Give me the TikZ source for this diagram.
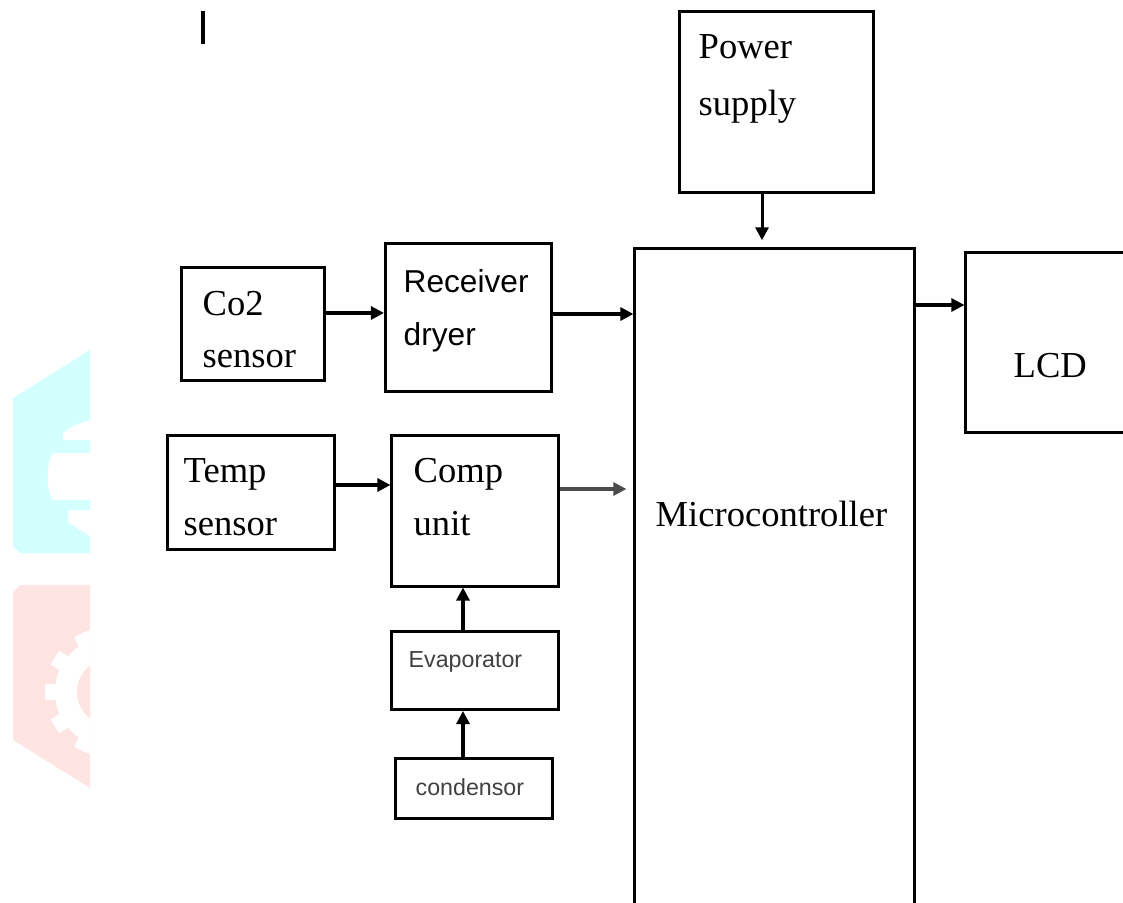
\documentclass[tikz,border=0pt]{standalone}
\usepackage{fontspec}
\setmainfont{Liberation Serif}
\newfontfamily\sansf{Liberation Sans}
\usetikzlibrary{arrows.meta}
\definecolor{wcyan}{HTML}{D4FFFF}
\definecolor{wpink}{HTML}{FFE4E4}
\begin{document}
\begin{tikzpicture}[x=0.01cm,y=-0.01cm,
  box/.style={draw, line width=0.03cm, inner sep=0pt},
  txt/.style={anchor=base west, inner sep=0pt, font=\fontsize{10.4}{12}\selectfont},
  stxt/.style={anchor=base west, inner sep=0pt, font=\sansf\fontsize{9}{11}\selectfont},
  tiny/.style={anchor=base west, inner sep=0pt, text=black!75, font=\sansf\fontsize{6.6}{8}\selectfont},
  arr/.style={draw, line width=0.03cm, -{Triangle[length=0.13cm,width=0.13cm]}}]
\useasboundingbox (0,0) rectangle (1123,903);
\clip (0,0) rectangle (1123,903);
% watermark (cyan)
\fill[wcyan] (90,350) -- (13,398) -- (13,546) -- (20,553) -- (90,553) -- cycle;
\fill[white] (63,440) -- (63,433) -- (75,425) -- (90,420) -- (90,440) -- cycle;
\fill[white] (90,453) -- (53,453) .. controls (46,462) and (46,491) .. (53,500) -- (90,500) -- cycle;
\fill[white] (68,510) -- (90,510) -- (90,536) -- (80,530) -- (68,522) -- cycle;
% watermark (pink)
\begin{scope}
  \clip (90,585) -- (20,585) -- (13,592) -- (13,740) -- (90,788) -- cycle;
  \fill[wpink] (0,580) rectangle (95,800);
  \fill[white] (110,692) circle [radius=0.55cm];
  \foreach \a in {84,116,148,180,212,244,276}
    \fill[white, rotate around={\a:(110,692)}] (155,684) rectangle (175,700);
  \fill[wpink] (110,692) circle [radius=0.33cm];
\end{scope}
% top-left bar
\draw[line width=0.04cm] (203,11) -- (203,44);
% boxes
\node[box, minimum width=1.93cm, minimum height=1.80cm] (ps) at (776.5,102) {};
\node[box, minimum width=2.79cm, minimum height=7.51cm] (mc) at (774.5,624.5) {};
\node[box, minimum width=2.34cm, minimum height=1.79cm] (lcd) at (1083,342.5) {};
\node[box, minimum width=1.42cm, minimum height=1.12cm] (co2) at (253,324) {};
\node[box, minimum width=1.66cm, minimum height=1.47cm] (rd) at (468.5,317.5) {};
\node[box, minimum width=1.66cm, minimum height=1.13cm] (ts) at (251,492.5) {};
\node[box, minimum width=1.66cm, minimum height=1.50cm] (cu) at (475,511) {};
\node[box, minimum width=1.66cm, minimum height=0.78cm] (ev) at (475,670.5) {};
\node[box, minimum width=1.56cm, minimum height=0.60cm] (cd) at (474,788.5) {};
% texts
\node[txt] (pst1) at (698,58) {Power};
\node[txt] (pst2) at (698,115) {supply};
\node[txt] (mct) at (655,527) {Microcontroller};
\node[txt] (lcdt) at (1013,377) {LCD};
\node[txt] (co2t1) at (202,315) {Co2};
\node[txt] (co2t2) at (202,367) {sensor};
\node[stxt] (rdt1) at (403,292) {Receiver};
\node[stxt] (rdt2) at (403,345) {dryer};
\node[txt] (tst1) at (183,482) {Temp};
\node[txt] (tst2) at (183,535) {sensor};
\node[txt] (cut1) at (413,482) {Comp};
\node[txt] (cut2) at (413,535) {unit};
\node[tiny] (evt) at (408,667) {Evaporator};
\node[tiny] (cdt) at (415,795) {condensor};
% connectors
\draw[arr] (co2.east |- 0,313) -- (rd.west |- 0,313);
\draw[arr] (rd.east |- 0,314) -- (mc.west |- 0,314);
\draw[arr] (ts.east |- 0,485) -- (cu.west |- 0,485);
\draw[arr, draw=black!70, shorten >=0.07cm] (cu.east |- 0,489) -- (mc.west |- 0,489);
\draw[arr, shorten >=0.07cm] (ps.south -| 762,0) -- (mc.north -| 762,0);
\draw[arr] (mc.east |- 0,305) -- (lcd.west |- 0,305);
\draw[arr] (ev.north -| 463,0) -- (cu.south -| 463,0);
\draw[arr] (cd.north -| 463,0) -- (ev.south -| 463,0);
\end{tikzpicture}
\end{document}
